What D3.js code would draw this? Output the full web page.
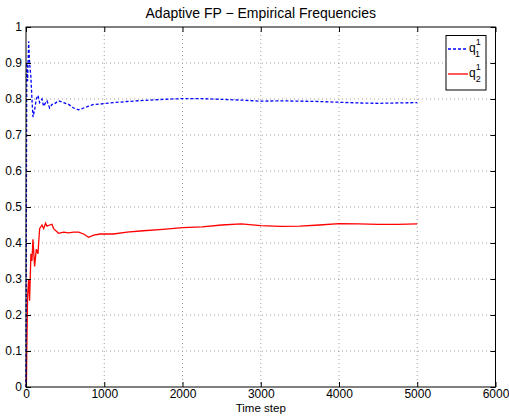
<!DOCTYPE html>
<html><head><meta charset="utf-8">
<script src="https://cdn.jsdelivr.net/npm/d3@7"></script>
<style>body{margin:0;background:#fff}svg{display:block;font-family:"Liberation Sans",Arial,sans-serif}</style>
</head><body><svg id="c" width="509" height="417"></svg>
<script>
const timeSteps = [0,5,10,20,34,46,63,76,89,110,132,153,174,204,225,250,268,302,332,353,417,481,545,608,672,736,800,864,949,1119,1290,1500,1750,2000,2250,2500,2750,3000,3250,3500,3750,4000,4250,4500,4750,5000];
const q1 = [0,0.5,0.9,0.85,0.96,0.9,0.86,0.8,0.75,0.77,0.8,0.81,0.79,0.8,0.78,0.79,0.795,0.775,0.785,0.785,0.795,0.79,0.785,0.775,0.77,0.775,0.78,0.785,0.786,0.79,0.793,0.796,0.799,0.801,0.801,0.799,0.797,0.794,0.795,0.794,0.793,0.791,0.789,0.788,0.789,0.79];
const q2 = [0,0,0.1,0.25,0.3,0.24,0.37,0.35,0.41,0.335,0.383,0.37,0.44,0.45,0.44,0.455,0.447,0.45,0.452,0.44,0.427,0.43,0.428,0.43,0.43,0.425,0.416,0.422,0.425,0.425,0.43,0.434,0.438,0.4425,0.445,0.45,0.453,0.448,0.446,0.447,0.45,0.4537,0.453,0.452,0.452,0.453];
const xTicks = [0,1000,2000,3000,4000,5000,6000];
const yTicks = [0,0.1,0.2,0.3,0.4,0.5,0.6,0.7,0.8,0.9,1];
const title = "Adaptive FP \u2212 Empirical Frequencies";
const xLabel = "Time step";

const L=26, R=495.5, T=27, B=387;
const svg = d3.select("#c");
const x = d3.scaleLinear().domain([0,6000]).range([L,R]);
const y = d3.scaleLinear().domain([0,1]).range([B,T]);

// grid
const g = svg.append("g");
g.selectAll(".gx").data(xTicks.slice(1,-1)).enter().append("line")
  .attr("x1",d=>x(d)).attr("x2",d=>x(d)).attr("y1",T).attr("y2",B)
  .attr("stroke","#a0a0a0").attr("stroke-width",1).attr("stroke-dasharray","1,3");
g.selectAll(".gy").data(yTicks.slice(1,-1)).enter().append("line")
  .attr("x1",L).attr("x2",R).attr("y1",d=>y(d)).attr("y2",d=>y(d))
  .attr("stroke","#a0a0a0").attr("stroke-width",1).attr("stroke-dasharray","1,3");

// lines
const pts = s => timeSteps.map((t,i)=>[t,s[i]]);
const line = d3.line().x(d=>x(d[0])).y(d=>y(d[1]));
svg.append("path").attr("d",line(pts(q2))).attr("fill","none").attr("stroke","#ff0000").attr("stroke-width",1.3);
svg.append("path").attr("d",line(pts(q1))).attr("fill","none").attr("stroke","#0000ff").attr("stroke-width",1.3).attr("stroke-dasharray","3,2");

// axes (ticks inside)
const fmt = d=>String(d);
const ax = (gen, tr) => svg.append("g").attr("transform",tr).call(gen);
const styleAxis = sel => { sel.select(".domain").remove(); sel.selectAll("text").attr("font-size",12).attr("fill","#000").attr("font-family","Liberation Sans, Arial, sans-serif"); sel.selectAll("line").attr("stroke","#000"); };
styleAxis(ax(d3.axisBottom(x).tickValues(xTicks).tickFormat(fmt).tickSizeInner(-5).tickPadding(2).tickSizeOuter(0), `translate(0,${B})`));
styleAxis(ax(d3.axisLeft(y).tickValues(yTicks).tickFormat(fmt).tickSizeInner(-5).tickPadding(4).tickSizeOuter(0), `translate(${L},0)`));
styleAxis(ax(d3.axisTop(x).tickValues(xTicks).tickFormat("").tickSizeInner(-5).tickSizeOuter(0), `translate(0,${T})`));
styleAxis(ax(d3.axisRight(y).tickValues(yTicks).tickFormat("").tickSizeInner(-5).tickSizeOuter(0), `translate(${R},0)`));
svg.append("rect").attr("x",L).attr("y",T).attr("width",R-L).attr("height",B-T).attr("fill","none").attr("stroke","#000").attr("stroke-width",1);

// title, labels
svg.append("text").attr("x",(L+R)/2).attr("y",18).attr("text-anchor","middle").attr("font-size",14).text(title);
svg.append("text").attr("x",(L+R)/2).attr("y",411.5).attr("text-anchor","middle").attr("font-size",11.5).text(xLabel);

// legend
const lg = svg.append("g");
lg.append("rect").attr("x",446).attr("y",35.5).attr("width",40).attr("height",54.5).attr("fill","#fff").attr("stroke","#000");
const items = [{c:"#0000ff",d:"3,2",sub:"1",yy:49},{c:"#ff0000",d:null,sub:"2",yy:74}];
items.forEach(it=>{
  const l = lg.append("line").attr("x1",448).attr("x2",468).attr("y1",it.yy).attr("y2",it.yy).attr("stroke",it.c).attr("stroke-width",1.3);
  if(it.d) l.attr("stroke-dasharray",it.d);
  const t = lg.append("text").attr("x",469).attr("y",it.yy+3).attr("font-size",12);
  t.append("tspan").text("q");
  t.append("tspan").attr("font-size",9).attr("dy",-7).text("1");
  t.append("tspan").attr("font-size",9).attr("dx",-5).attr("dy",12).text(it.sub);
});
</script></body></html>
